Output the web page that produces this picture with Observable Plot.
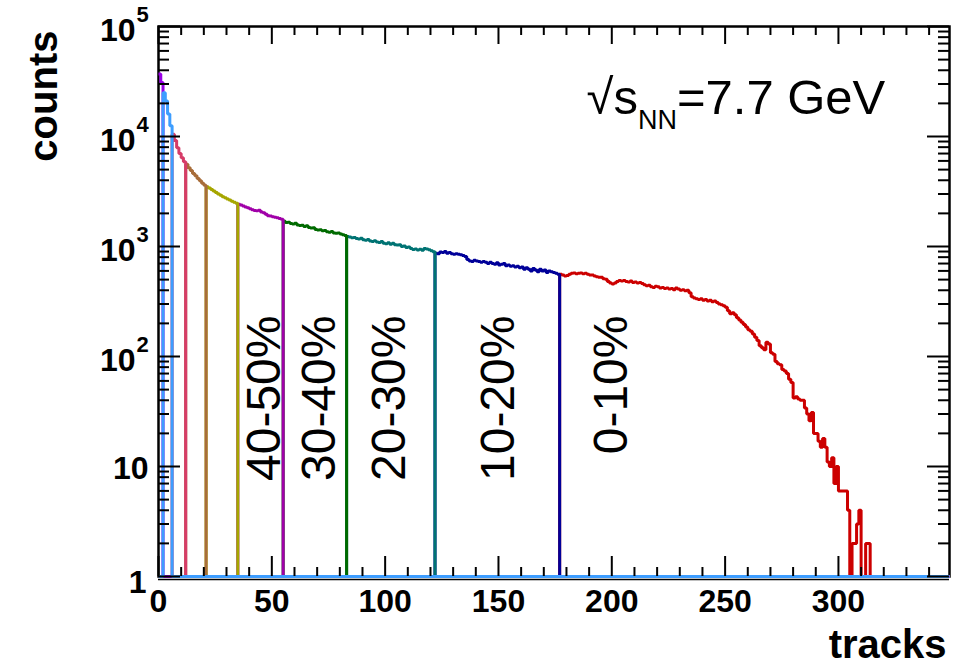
<!DOCTYPE html>
<html><head><meta charset="utf-8">
<script src="https://cdn.jsdelivr.net/npm/d3@7"></script>
<script src="https://cdn.jsdelivr.net/npm/@observablehq/plot@0.6"></script>
<style>body{margin:0;background:#fff} svg{display:block}</style>
</head><body><div id="chart"></div>
<script>
// counts per track bin (bin i = i tracks)
const counts = [
  37000, 31000,
  25000, 21000, 16000, 12500,
  10500, 9200, 7900, 7000, 6400, 5900,
  5600, 5200, 4900, 4600, 4400, 4150, 3950, 3750, 3600,
  3500, 3400, 3300, 3200, 3100, 3000, 2920, 2840, 2780, 2700, 2650, 2580, 2520, 2470,
  2420, 2380, 2330, 2290, 2250, 2200, 2160, 2130, 2110, 2140, 2060, 2030, 1960, 1900, 1890, 1860, 1840, 1830, 1800, 1770,
  1700, 1650, 1660, 1620, 1600, 1630, 1570, 1550, 1560, 1520, 1540, 1490, 1470, 1480, 1430, 1410, 1420, 1390, 1400, 1360, 1350, 1370, 1330, 1320, 1330, 1300, 1280, 1260,
  1230, 1220, 1200, 1210, 1180, 1170, 1190, 1150, 1140, 1160, 1120, 1110, 1130, 1100, 1090, 1110, 1070, 1060, 1080, 1050, 1070, 1040, 1030, 1040, 1000, 1010, 980, 990, 960, 940, 950, 930, 945, 925, 960, 950, 935, 915, 895,
  870, 860, 890, 880, 900, 870, 880, 860, 850, 860, 850, 840, 830, 810, 760, 740, 730, 750, 740, 730, 720, 730, 720, 700, 720, 700, 690, 710, 680, 690, 700, 670, 680, 660, 670, 650, 660, 640, 650, 620, 640, 620, 600, 630, 610, 590, 620, 600, 610, 580, 600, 590, 580, 570, 560,
  560, 550, 540, 545, 560, 570, 575, 565, 570, 575,
  565, 570, 560, 550, 550, 540, 530, 525, 525, 510,
  505, 480, 465, 455, 465, 480, 490, 485, 490, 480,
  475, 485, 470, 475, 465, 470, 460, 450, 440, 445,
  430, 425, 435, 430, 420, 425, 415, 420, 410, 415,
  405, 420, 410, 400, 405, 395, 400, 380, 350, 340,
  335, 330, 335, 325, 330, 320, 325, 315, 320, 310,
  300, 295, 290, 280, 260, 245, 250, 240, 225, 215,
  205, 195, 185, 175, 170, 160, 150, 140, 125, 120,
  115, 135, 130, 108, 105, 90, 86, 84, 76, 74,
  70, 62, 58, 42, 43, 41, 40, 40, 34, 30,
  26, 31, 20, 20, 17, 15, 18, 15, 11, 10,
  12, 7, 10, 6, 6, 6, 6, 4,
  0, 2, 2, 3, 4, 0, 0, 2, 2
];
const classEdges = [0, 2, 6, 12, 21, 35, 55, 83, 122, 177, 350];
const classNames = ["90-100%", "80-90%", "70-80%", "60-70%", "50-60%", "40-50%", "30-40%", "20-30%", "10-20%", "0-10%"];
const classColors = ["#9a00e6", "#3d9dff", "#d63c68", "#a86d3a", "#a6a600", "#a000a8", "#006a00", "#007373", "#000099", "#cc0000"];
const drawOrder = [9, 8, 7, 6, 5, 4, 3, 2, 0, 1];
const labelNames = ["40-50%", "30-40%", "20-30%", "10-20%", "0-10%"];
const labelTracks = [46, 70.5, 101, 149.5, 199];
const xMajor = [0, 50, 100, 150, 200, 250, 300];
const xMinor = d3.range(10, 350, 10).filter(d => d % 50 !== 0);
const yDecades = [1, 10, 100, 1000, 10000, 100000];
const yMinor = [1, 10, 100, 1000, 10000].flatMap(b => [2,3,4,5,6,7,8,9].map(m => m * b));
const energyParts = ["√s", "NN", "=7.7 GeV"];
const energyLabel = energyParts.join("");
const xTitle = "tracks", yTitle = "counts";

const W = 953, H = 666, mL = 158, mR = 4, mT = 26, mB = 90;
const pw = W - mL - mR, ph = H - mT - mB;
const xMax = 349;

const series = [];
for (const k of drawOrder) {
  for (let i = 0; i <= xMax; i++) {
    const inside = i >= classEdges[k] && i < classEdges[k + 1];
    const v = inside ? (counts[i] || 0) : 0;
    series.push({track: i, count: Math.max(v, 1), cls: classNames[k]});
  }
}

const bold = {fontWeight: "bold"};
const svg = Plot.plot({
  width: W, height: H,
  marginLeft: mL, marginRight: mR, marginTop: mT, marginBottom: mB,
  style: {fontFamily: "Liberation Sans, Arial, sans-serif", background: "white", color: "black"},
  x: {domain: [0, xMax], axis: null},
  y: {type: "log", domain: [1, 100000], axis: null},
  color: {domain: classNames, range: classColors},
  marks: [
    Plot.frame({stroke: "black", strokeWidth: 2.5}),
    Plot.ruleY([1], {stroke: "black", strokeWidth: 1.5, dy: 3}),
    Plot.line(series, {x: "track", y: "count", z: "cls", stroke: "cls", curve: "step-after", strokeWidth: 3, strokeLinejoin: "miter", strokeLinecap: "butt"}),
    // inward ticks
    Plot.tickX(xMajor, {x: d => d, insetTop: ph - 20, stroke: "black", strokeWidth: 2}),
    Plot.tickX(xMinor, {x: d => d, insetTop: ph - 9, stroke: "black", strokeWidth: 2}),
    Plot.tickX(xMajor, {x: d => d, insetBottom: ph - 18, stroke: "black", strokeWidth: 2}),
    Plot.tickX(xMinor, {x: d => d, insetBottom: ph - 9, stroke: "black", strokeWidth: 2}),
    Plot.tickY(yDecades, {y: d => d, insetRight: pw - 22, stroke: "black", strokeWidth: 2}),
    Plot.tickY(yMinor, {y: d => d, insetRight: pw - 11, stroke: "black", strokeWidth: 2}),
    Plot.tickY(yDecades, {y: d => d, insetLeft: pw - 22, stroke: "black", strokeWidth: 2}),
    Plot.tickY(yMinor, {y: d => d, insetLeft: pw - 11, stroke: "black", strokeWidth: 2}),
    // x tick labels
    Plot.text(xMajor, {x: d => d, frameAnchor: "bottom", text: d => String(d), lineAnchor: "bottom", dy: 35, fontSize: 32, ...bold}),
    // y tick labels
    Plot.text(yDecades.filter(d => d >= 100), {y: d => d, frameAnchor: "left", text: () => "10", textAnchor: "end", dx: -23, dy: 4, fontSize: 32, ...bold}),
    Plot.text(yDecades.filter(d => d >= 100), {y: d => d, frameAnchor: "left", text: d => String(Math.round(Math.log10(d))), textAnchor: "start", dx: -22, dy: -12, fontSize: 22, ...bold}),
    Plot.text(yDecades.filter(d => d === 10), {y: d => d, frameAnchor: "left", text: d => String(d), textAnchor: "end", dx: -10, dy: 2, fontSize: 32, ...bold}),
    Plot.text(yDecades.filter(d => d === 1), {y: d => d, frameAnchor: "left", text: d => String(d), textAnchor: "end", dx: -12, dy: 6, fontSize: 32, ...bold}),
    // axis titles
    Plot.text([xTitle], {frameAnchor: "bottom-right", text: d => d, textAnchor: "end", lineAnchor: "bottom", dx: -3, dy: 81, fontSize: 40, ...bold}),
    Plot.text([yTitle], {frameAnchor: "top-left", text: d => d, textAnchor: "end", lineAnchor: "bottom", rotate: -90, dx: -102, dy: 4, fontSize: 40, ...bold}),
    // centrality labels
    Plot.text(labelNames, {x: (d, i) => labelTracks[i], frameAnchor: "top", text: d => d, rotate: -90, textAnchor: "end", dx: -17, dy: 289, fontSize: 48}),
    // energy label
    Plot.text([energyLabel], {frameAnchor: "top-left", text: d => d, textAnchor: "start", lineAnchor: "bottom", dx: 428, dy: 87, fontSize: 49})
  ]
});

const t = d3.select(svg).selectAll("text").filter(function () { return this.textContent === energyLabel; });
t.text(null);
t.append("tspan").text(energyParts[0]);
t.append("tspan").attr("font-size", 27).attr("dy", 15).text(energyParts[1]);
t.append("tspan").attr("dy", -15).text(energyParts[2]);

document.getElementById("chart").appendChild(svg);
</script>
</body></html>
